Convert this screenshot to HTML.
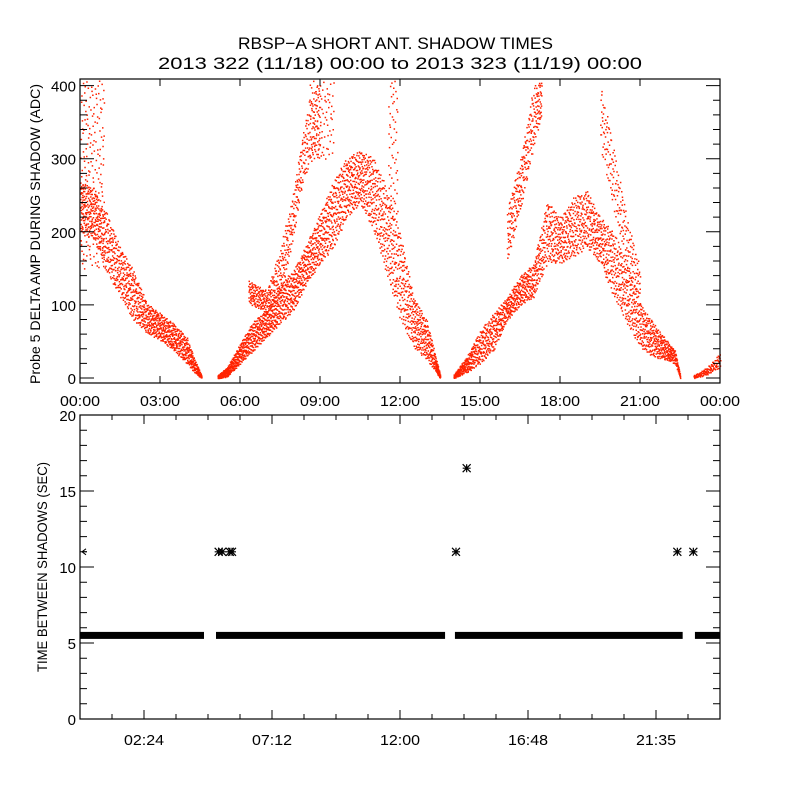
<!DOCTYPE html>
<html><head><meta charset="utf-8">
<style>
html,body{margin:0;padding:0;background:#fff;}
svg{display:block;}
text{font-family:"Liberation Sans",sans-serif;fill:#000;}
</style></head>
<body>
<svg id="chart" width="800" height="800" viewBox="0 0 800 800">
<rect x="0" y="0" width="800" height="800" fill="#fff"/>
<text x="238" y="49" font-size="17" textLength="315" lengthAdjust="spacingAndGlyphs">RBSP−A SHORT ANT. SHADOW TIMES</text>
<text x="158" y="69" font-size="17" textLength="484" lengthAdjust="spacingAndGlyphs">2013 322 (11/18) 00:00 to 2013 323 (11/19) 00:00</text>
<g id="topPanel"></g>
<g id="botPanel"></g>
</svg>
<script>
// ---------- Top panel data (hours, low/high envelope of ADC values) ----------
const bandAHours = [0.0, 0.5, 1.0, 1.5, 2.0, 2.5, 3.0, 3.5, 4.0, 4.3, 4.55];
const bandALow   = [200, 190, 144, 111, 79, 62, 52, 38, 20, 7, 0];
const bandAHigh  = [270, 260, 226, 179, 148, 103, 89, 75, 56, 25, 4];

const bandBHours = [5.15, 5.5, 6.0, 6.5, 7.0, 7.5, 8.0, 8.5, 9.0, 9.5, 10.0, 10.5, 11.0, 11.5, 12.0, 12.5, 13.0, 13.5];
const bandBLow   = [0, 2, 20, 38, 56, 75, 93, 130, 157, 179, 220, 239, 202, 140, 80, 42, 25, 0];
const bandBHigh  = [4, 15, 48, 79, 93, 130, 148, 185, 226, 271, 302, 312, 302, 260, 200, 111, 79, 4];

const bandBUpHours = [6.3, 7.0, 7.5, 8.0, 8.3, 8.6, 9.0];
const bandBUpLow   = [103, 89, 111, 193, 261, 294, 302];
const bandBUpHigh  = [134, 120, 179, 257, 326, 384, 408];

const bandCHours = [14.0, 14.5, 15.0, 15.5, 16.0, 16.5, 17.0, 17.5, 18.0, 18.5, 19.0, 19.5, 20.0, 20.5, 21.0, 21.5, 22.0, 22.3, 22.5];
const bandCLow   = [0, 8, 20, 38, 79, 100, 111, 157, 157, 166, 179, 157, 111, 75, 42, 29, 25, 20, 0];
const bandCHigh  = [5, 30, 66, 89, 111, 140, 157, 243, 220, 248, 257, 220, 202, 157, 103, 75, 52, 38, 4];

const bandCUpHours = [16.0, 16.5, 17.0, 17.3];
const bandCUpLow   = [157, 230, 316, 360];
const bandCUpHigh  = [230, 300, 400, 408];

const bandCDownHours = [19.5, 20.0, 20.5, 21.0];
const bandCDownLow   = [316, 230, 150, 100];
const bandCDownHigh  = [408, 316, 220, 150];

const bandDHours = [23.0, 23.5, 24.0];
const bandDLow   = [0, 5, 15];
const bandDHigh  = [4, 15, 35];

const sparseHours = [[0.0, 0.9], [8.6, 9.5], [11.55, 11.9]];
const sparseLow   = [150, 300, 220];
const sparseHigh  = [408, 408, 408];

const topYTicks = [0, 100, 200, 300, 400];
const topXLabels = ["00:00","03:00","06:00","09:00","12:00","15:00","18:00","21:00","00:00"];

// ---------- Bottom panel data ----------
const baseSegStart = [0.0, 5.1, 14.06, 23.06];
const baseSegEnd   = [4.65, 13.69, 22.6, 24.0];
const baseValue = 5.5;
const starHours  = [5.2, 5.33, 5.62, 5.7, 14.1, 14.5, 22.4, 23.0];
const starValues = [11, 11, 11, 11, 11, 16.5, 11, 11];
const botYTicks = [0, 5, 10, 15, 20];
const botXLabels = ["02:24","07:12","12:00","16:48","21:35"];
const botXLabelHours = [2.4, 7.2, 12.0, 16.8, 21.6];

const NS = "http://www.w3.org/2000/svg";
function mk(tag, attrs, parent){ const e=document.createElementNS(NS,tag); for(const k in attrs) e.setAttribute(k,attrs[k]); parent.appendChild(e); return e; }

const X0=80, X1=720;
const xH = h => X0 + (h/24)*(X1-X0);
const T_TOP=79, T_BOT=383;
const yTop = v => 378 - v*0.731;
const B_TOP=415, B_BOT=719;
const yBot = v => 719 - v*15.2;

const topG = document.getElementById('topPanel');
const botG = document.getElementById('botPanel');

function interp(hs, vs, h){
  if(h<=hs[0]) return vs[0];
  for(let i=1;i<hs.length;i++){ if(h<=hs[i]){ const t=(h-hs[i-1])/(hs[i]-hs[i-1]); return vs[i-1]+t*(vs[i]-vs[i-1]); } }
  return vs[vs.length-1];
}
// deterministic Halton sequences used only to spread texture inside envelopes
function halton(i, b){ let f=1, r=0; while(i>0){ f/=b; r+=f*(i%b); i=Math.floor(i/b); } return r; }
let seq=0;
function bandPath(hs, lo, hi, density){
  let d="";
  const h0=hs[0], h1=hs[hs.length-1];
  // approximate area in px^2 to decide count
  let area=0;
  for(let h=h0; h<h1; h+=0.05){ area += (interp(hs,hi,h)-interp(hs,lo,h)+8)*0.731*(xH(0.05)-X0); }
  const n=Math.round(area*density);
  for(let k=0;k<n;k++){
    seq++;
    const h=h0+halton(seq,2)*(h1-h0);
    const l=interp(hs,lo,h), u=interp(hs,hi,h);
    const v=l+halton(seq,3)*(u-l);
    if(v>408) continue;
    const x=xH(h), y=yTop(v);
    d+="M"+x.toFixed(1)+" "+y.toFixed(1)+"h1.5v1.5h-1.5z";
  }
  return d;
}
const pts = mk('g',{},topG);


function addBand(name, hs, lo, hi, dens){
  const p = mk('path',{d:bandPath(hs,lo,hi,dens), fill:'#ff2200'}, pts);
  
  
}
addBand('band-pass-1', bandAHours, bandALow, bandAHigh, 0.22);
addBand('band-pass-2', bandBHours, bandBLow, bandBHigh, 0.2);
addBand('band-pass-2-upper', bandBUpHours, bandBUpLow, bandBUpHigh, 0.14);
addBand('band-pass-3', bandCHours, bandCLow, bandCHigh, 0.2);
addBand('band-pass-3-upper', bandCUpHours, bandCUpLow, bandCUpHigh, 0.13);
addBand('band-pass-3-falling', bandCDownHours, bandCDownLow, bandCDownHigh, 0.08);
addBand('band-pass-4', bandDHours, bandDLow, bandDHigh, 0.3);
for(let i=0;i<sparseHours.length;i++){
  addBand('sparse-points-'+(i+1), sparseHours[i], [sparseLow[i],sparseLow[i]], [sparseHigh[i],sparseHigh[i]], 0.04);
}

const tf = mk('rect',{x:X0,y:T_TOP,width:X1-X0,height:T_BOT-T_TOP,fill:'none',stroke:'#000','stroke-width':1.2},topG);


let td="";
for(let v=0; v<=400; v+=20){
  const y=yTop(v), L=(v%100===0)?14:7;
  td+=`M${X0} ${y}h${L}M${X1} ${y}h${-L}`;
}
for(let h=3; h<24; h+=3){ const x=xH(h); td+=`M${x} ${T_BOT}v-7M${x} ${T_TOP}v7`; }
const tt=mk('path',{d:td,stroke:'#000','stroke-width':1,fill:'none'},topG);


topYTicks.forEach(v=>{
  const t=mk('text',{x:76,y:yTop(v)+6,'font-size':15,'text-anchor':'end'},topG);
  t.textContent=String(v);
  
  
});
topXLabels.forEach((s,i)=>{
  const t=mk('text',{x:xH(i*3)-20,y:406,'font-size':15,textLength:40,lengthAdjust:'spacingAndGlyphs'},topG);
  t.textContent=s;
  
  
});
const ty=mk('text',{x:0,y:0,'font-size':14,'text-anchor':'middle',textLength:300,lengthAdjust:'spacingAndGlyphs',transform:'translate(40,234) rotate(-90)'},topG);
ty.textContent='Probe 5 DELTA AMP DURING SHADOW (ADC)';



baseSegStart.forEach((s,i)=>{
  const r=mk('rect',{x:xH(s),y:yBot(baseValue)-3.5,width:xH(baseSegEnd[i])-xH(s),height:7,fill:'#000'},botG);
  
  
});
starHours.forEach((h,i)=>{
  const x=xH(h), y=yBot(starValues[i]), s=4;
  const p=mk('path',{d:`M${x-s} ${y}h${2*s}M${x} ${y-s}v${2*s}M${x-s} ${y-s}l${2*s} ${2*s}M${x-s} ${y+s}l${2*s} ${-2*s}`,stroke:'#000','stroke-width':1.2,fill:'none'},botG);
  
  
});
const sm=mk('path',{d:`M${X0+6} ${yBot(11)-3}l-4 3l4 3M${X0+2} ${yBot(11)}h5`,stroke:'#000','stroke-width':1,fill:'none'},botG);



const bf=mk('rect',{x:X0,y:B_TOP,width:X1-X0,height:B_BOT-B_TOP,fill:'none',stroke:'#000','stroke-width':1.2},botG);


let bd="";
for(let v=0; v<=20; v++){ const y=yBot(v), L=(v%5===0)?14:7; bd+=`M${X0} ${y}h${L}M${X1} ${y}h${-L}`; }
for(let k=1;k<20;k++){ const x=X0+k*32, L=((k-2)%4===0)?9:5; bd+=`M${x} ${B_BOT}v${-L}M${x} ${B_TOP}v${L}`; }
const bt=mk('path',{d:bd,stroke:'#000','stroke-width':1,fill:'none'},botG);


botYTicks.forEach(v=>{
  const t=mk('text',{x:76,y:yBot(v)+6,'font-size':15,'text-anchor':'end'},botG);
  t.textContent=String(v);
  
  
});
botXLabels.forEach((s,i)=>{
  const t=mk('text',{x:xH(botXLabelHours[i])-20,y:745,'font-size':15,textLength:40,lengthAdjust:'spacingAndGlyphs'},botG);
  t.textContent=s;
  
  
});
const by=mk('text',{x:0,y:0,'font-size':14,'text-anchor':'middle',textLength:210,lengthAdjust:'spacingAndGlyphs',transform:'translate(47,567) rotate(-90)'},botG);
by.textContent='TIME BETWEEN SHADOWS (SEC)';


</script>
</body></html>
